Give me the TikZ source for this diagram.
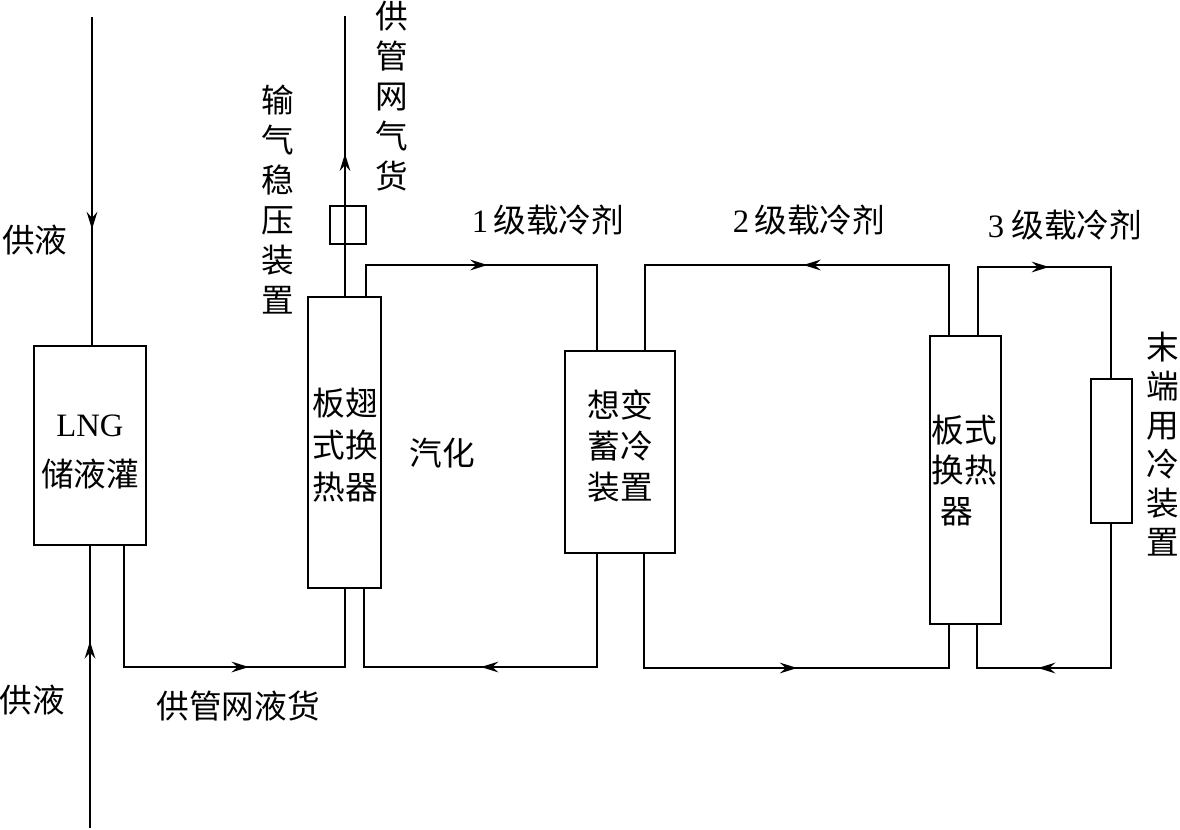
\documentclass[tikz,border=0pt]{standalone}
\usepackage{fontspec}
\setmainfont{Noto Sans CJK SC}
\newfontfamily\latinf{Liberation Serif}
\usetikzlibrary{arrows.meta,decorations.markings}
\tikzset{
  wire/.style={line width=1.6pt,line join=miter},
  flow/.style={postaction={decorate,decoration={markings,mark=at position #1 with {\arrow{Stealth[length=13pt,width=8pt,inset=4.5pt]}}}}},
  device/.style={draw,line width=1.6pt,inner sep=0pt,outer sep=0pt},
  label/.style={inner sep=0pt,outer sep=0pt,align=center,font=\fontsize{24.5}{#1}\selectfont},
  label/.default=30pt,
}
\begin{document}
\begin{tikzpicture}[x=0.75pt,y=-0.75pt]
\useasboundingbox (0,0) rectangle (1180,829);
% devices
\node[device,minimum width=84pt,minimum height=149.25pt] (lng) at (90,445.5) {};
\node[device,minimum width=54.75pt,minimum height=218.25pt] (fin) at (344.5,442.5) {};
\node[device,minimum width=82.5pt,minimum height=151.5pt] (phase) at (620,452) {};
\node[device,minimum width=53.25pt,minimum height=216pt] (plate) at (965.5,480) {};
\node[device,minimum width=30.75pt,minimum height=108pt] (end) at (1111.5,451) {};
\node[device,minimum width=27pt,minimum height=28.5pt] (valve) at (348,225) {};
% free ends
\coordinate (feedA) at (92,17);
\coordinate (feedB) at (90,828);
\coordinate (gasout) at (345,16);
% connectors
\draw[wire,flow=.645] (feedA) -- (lng.north -| feedA);
\draw[wire,flow=.66] (feedB) -- (lng.south -| feedB);
\draw[wire,flow=.585] (lng.south -| 124,0) -- (124,667) -- (345,667) -- (fin.south -| 345,0);
\draw[wire,flow=.51] (fin.north -| gasout) -- (gasout);
\draw[wire,flow=.44] (fin.north -| 366,0) -- (366,265) -- (597,265) -- (phase.north -| 597,0);
\draw[wire,flow=.54] (phase.south -| 597,0) -- (597,667) -- (364,667) -- (fin.south -| 364,0);
\draw[wire,flow=.47] (plate.north -| 949,0) -- (949,265) -- (645,265) -- (phase.north -| 645,0);
\draw[wire,flow=.578] (phase.south -| 644,0) -- (644,668) -- (949,668) -- (plate.south -| 949,0);
\draw[wire,flow=.446] (plate.north -| 978,0) -- (978,267) -- (1111,267) -- (end.north -| 1111,0);
\draw[wire,flow=.675] (end.south -| 1111,0) -- (1111,668) -- (977,668) -- (plate.south -| 977,0);
% labels
\node[label=38pt] (tlng) at (90,452) {{\latinf LNG}\\储液灌};
\node[label=31.5pt] (tfin) at (345,445.5) {板翅\\式换\\热器};
\node[label=30.5pt] (tphase) at (620,446) {想变\\蓄冷\\装置};
\node[label=30.5pt] (tplate) at (964,470.5) {板式\\换热\\\hspace*{-10.5pt}器};
\node[label] (t1) at (35,240) {供液};
\node[label] (t2) at (32,700) {供液};
\node[label] (t3) at (238,706) {供管网液货};
\node[label] (t4) at (278,200) {输\\气\\稳\\压\\装\\置};
\node[label] (t5) at (392,96) {供\\管\\网\\气\\货};
\node[label] (t6) at (442,453) {汽化};
\node[label] (t7) at (548,220) {{\latinf 1\,}级载冷剂};
\node[label] (t8) at (809,220) {{\latinf 2\,}级载冷剂};
\node[label] (t9) at (1065,225) {{\latinf 3} 级载冷剂};
\node[label=29.3pt] (t10) at (1163,444) {末\\端\\用\\冷\\装\\置};
\end{tikzpicture}
\end{document}
